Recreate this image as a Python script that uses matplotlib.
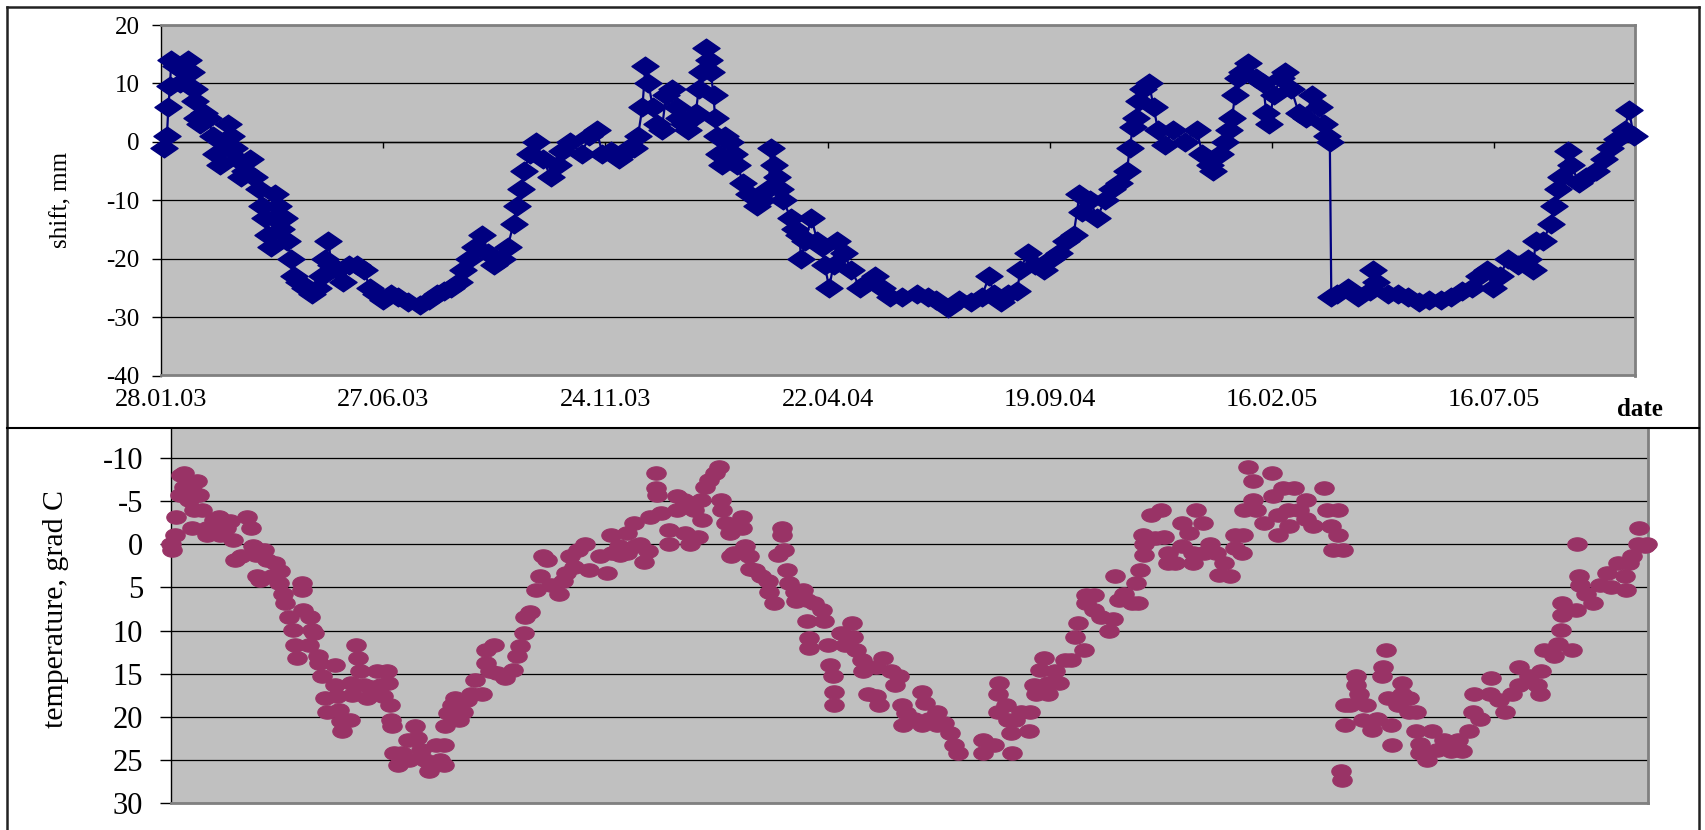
import numpy as np
import matplotlib
matplotlib.use("Agg")
import matplotlib.pyplot as plt
from matplotlib.path import Path
from matplotlib.lines import Line2D

plt.rcParams['font.family'] = ['Liberation Serif', 'DejaVu Serif']
plt.rcParams['axes.unicode_minus'] = False

# ---------------- data (x = days since 28.01.2003) ----------------
tick_days = [0, 150, 300, 450, 600, 750, 900]
tick_labels = ['28.01.03', '27.06.03', '24.11.03', '22.04.04',
               '19.09.04', '16.02.05', '16.07.05']

shift_days = [2, 4, 5, 6, 7, 10, 13, 16, 18, 20, 22, 23, 24, 26, 29, 32, 35, 37, 40, 43,
              45, 47, 49, 51, 54, 57, 60, 63, 66, 68, 70, 72, 74, 76, 77, 79, 81, 83, 85, 88,
              90, 93, 97, 102, 106, 109, 111, 113, 115, 119, 123, 127, 132, 137, 141, 145, 150, 155, 160, 167,
              175, 181, 186, 191, 196, 201, 204, 208, 212, 217, 221, 225, 230, 234, 238, 240, 243, 245, 249, 253,
              258, 263, 268, 271, 276, 284, 289, 294,
              298, 304, 309, 312, 316, 319, 322, 325, 327, 329, 332, 335, 338, 341, 345, 348, 350, 353, 356, 359,
              361, 363, 365, 368, 370, 371, 373, 374, 375, 377, 379, 381, 384, 387, 389, 393, 397, 402, 406, 410,
              412, 414, 416, 418, 420, 425, 428, 431, 432, 435, 439, 443, 446, 448, 451, 454, 456, 461, 466, 472,
              477, 482, 487, 492, 500, 510, 518, 523, 531, 539, 547, 554, 559, 562, 567, 572, 578, 580, 585, 590,
              596, 601, 606, 611, 616, 620, 622, 627, 632, 637, 642, 647, 652, 654, 656, 658, 660, 663, 667, 670,
              673, 678, 683, 691, 699,
              703, 708, 710, 715, 718, 721, 723, 725, 727, 730, 734, 739, 744, 746, 748, 751, 756, 759, 763, 768,
              773, 777, 782, 785, 787, 789, 790, 794, 801, 808, 816, 818, 820, 828, 835, 842, 849, 856, 864, 871,
              878, 885, 890, 895, 899, 904, 909, 916, 923, 926, 928, 933, 938, 940, 943, 945, 950, 952, 957, 962,
              969, 974, 978, 983, 988, 991, 994]
shift_mm = [-1, 1, 6, 9.5, 14, 13, 10, 12, 14, 12, 9, 7, 4, 3, 5, 4, 1, -2, -4, 0,
            3, 1, -1, -3, -6, -5, -3, -6, -8, -11, -13, -16, -18, -13, -9, -11, -15, -13, -17, -20,
            -23, -24, -25, -26, -25, -23, -20, -17, -21, -22, -24, -21, -21, -22, -25, -26, -27, -26, -26.5, -27.5,
            -28, -27, -26, -25.5, -25, -24, -22, -20, -18, -16, -19, -21, -20, -18, -14, -11, -8, -5, -2, 0,
            -3, -6, -4, -1.5, 0, -2, 1, 2,
            -2, -1.5, -3, -2, -1, -1, 1, 6, 13, 10, 6, 3, 2, 8, 9, 6, 4, 3, 2, 4,
            5, 9, 12, 16, 14, 12, 8, 4, 1, -2, -4, 1, 0, -2, -4, -7, -9, -11, -10, -8,
            -1, -4, -6, -8, -10, -13, -15, -16, -20, -17, -13, -17, -18, -21, -25, -21, -17, -19, -22, -25,
            -24, -23, -25, -26.5, -26.5, -26, -26.5, -27, -28.5, -27, -27.5, -26.5, -23, -26, -27.5, -26, -25.5, -22, -19, -21,
            -22, -20, -19, -17, -16, -9, -12, -10, -13, -10, -8, -7, -5, -1, 2.5, 4, 7, 9, 10, 6,
            2, -0.5, 2, 0, 2,
            -2, -4, -5, -2, 0, 2, 4, 8, 11, 12, 13.5, 11, 10, 5, 3, 8, 11, 12, 9, 5,
            4, 8, 6, 3, 1, 0, -26.5, -26, -25, -26.5, -25.5, -22, -24, -26, -26, -26.5, -27.5, -27, -27, -26.5,
            -25.5, -25, -23, -22, -25, -23, -20, -21, -20, -22, -17, -17, -14, -11, -8, -6, -1.5, -4, -7, -6,
            -5, -3, -1, 0.5, 2, 5.5, 1]

temp_days = [0, 0.5, 3, 3.5, 6, 6.5, 8.5, 9, 12, 14, 15, 15.5, 17.6, 19, 21, 24, 24.5, 29, 32, 33,
             37, 39.5, 42, 43, 47, 51, 53.7, 55, 57, 58, 60, 62.7, 65, 68, 70, 73, 73.5, 75.6, 77, 79.4,
             82, 83.3, 84.6, 88, 88.5, 89, 93, 93.6, 94.9, 96.2, 98.8, 100, 101.4, 103.9, 105.2, 110.4, 110.6, 111.7, 113, 114.2,
             115.5, 120.7, 121, 122, 124.5, 125.8, 127.1, 129.7, 132.3, 134.9, 138.7, 141.3, 142.6, 145.2, 146.5, 147.8, 148, 149, 150.3, 152.9,
             155.5, 159.4, 160.6, 164.5, 165.8, 168.4, 171, 173.5, 178.7, 181.3, 183.8, 184, 184.5, 186.4, 189, 191.6, 194.2, 196.7, 199.3, 201.9,
             204.5, 209.6, 212.2, 212.5, 214.8, 217.4, 219.9, 225.1, 230.3, 232.8, 235.4, 238, 238.5, 241.8, 245.7, 248.3, 250.9, 253.5, 256, 261.2,
             263.8, 266.3, 268.9, 271.5, 274.1, 279.2, 281.8,
             289, 294, 296.7, 297, 301.9, 302.5, 307, 307.5, 312.2, 312.7, 316, 318.6, 321.2, 322.5, 326.4, 326.8, 327.2, 330.2, 335.4, 335.8,
             340.6, 341, 345.7, 346, 349.6, 352.2, 354.7, 357.3, 357.6, 359.9, 362.5, 366.3, 368.9, 370.2, 371.5, 374, 376.7, 377, 379.2, 384.4,
             384.7, 387, 389.5, 389.8, 393.4, 397.3, 402.4, 402.7, 406.3, 408.9, 411.5, 411.8, 412.7, 415.3, 416.6, 420.5, 420.8, 425.6, 428.2, 428.5,
             429.5, 429.8, 433.4, 438.5, 439.8, 442.4, 443.7, 446.3, 446.6, 446.9, 451.4, 454, 459.1, 459.4, 461.7, 465.6, 465.9, 469.5, 474.6, 474.9,
             477.2, 479.8, 484.9, 487.5, 490.1, 492.7, 493, 495.2, 500.4, 505.6, 505.9, 508.1, 510.7, 515.9, 516.2, 521, 524.9, 527.5, 530, 546.8,
             547.1, 554.5, 557.1, 557.4, 557.7, 562.3, 563.6, 566.1, 566.4, 568.7, 572.6, 577.7, 579, 581.6, 582.9, 585.5, 588, 590.6, 590.9, 595.8,
             598.4, 602.2, 606.1, 608.7, 611.3, 615.1, 616.4, 616.7, 621.6, 621.9, 626.7, 631.9, 634.5, 635.7, 638.3, 642.2, 647.3, 649.9, 651.2, 652.5,
             655.1, 655.4, 655.7, 660.2, 662.8,
             666.7, 669, 671.4, 671.7, 676.2, 681, 681.3, 685.8, 688.2, 688.5, 690.6, 695.3, 695.6, 700.1, 703.7, 706.1, 709.7, 713.3, 716.8, 717.1,
             721.6, 721.9, 722.8, 725.2, 728.8, 729.1, 731.2, 736, 741.9, 742.2, 745.5, 745.8, 749.1, 752.7, 753, 756.3, 759.8, 764.6, 764.9, 769.4,
             776.6, 779, 781.3, 782.5, 786.1, 786.4, 788.5, 788.8, 789.7, 790.9, 791.2, 794.5, 798, 798.3, 800.5, 802.8, 805.2, 808.8, 812.4, 816,
             816.3, 818.4, 819.6, 822, 822.3, 826.7, 829.1, 829.4, 833.9, 834.2, 838.7, 839, 841.1, 841.4, 845.8, 849.4, 853, 857.8, 862.6, 867.3,
             869.7, 874.5, 876.9, 878.1, 881.7, 888.8, 889.1, 894.8, 898.4, 903.2, 908, 908.3, 915.1, 919.9, 922.3, 922.6, 924.7, 931.8, 934.2, 936.6,
             936.9, 937.2, 943.8, 946.2, 947.4, 948.6, 948.9, 953.3, 958.1, 962.9, 967.7, 970.1, 974.8, 979.6, 979.9, 982, 984.4, 988, 989.2, 992.8,
             994]
temp_c = [0, 0.6, -1.1, -3.2, -5.7, -8.1, -8.3, -6.7, -5.2, -1.9, -6.1, -4, -7.3, -5.7, -4, -1.9, -1.1, -2.8, -3.2, -1.1,
          -1.9, -2.7, -0.5, 1.8, 1.4, -3.2, -1.9, 0.2, 1.2, 3.7, 4.1, 0.6, 1.8, 3.7, 2.2, 4.5, 3.1, 5.7, 6.8, 8.4,
          9.9, 11.7, 13.2, 4.5, 5.3, 7.6, 11.7, 8.4, 9.9, 10.3, 13, 13.8, 15.3, 17.8, 19.4, 14, 16.3, 17.6, 19.2, 20.5,
          21.7, 20.4, 16.1, 17.5, 11.7, 13.2, 14.7, 16.3, 17.8, 16.5, 14.7, 16.3, 17.6, 14.7, 16.1, 18.6, 20.4, 21.1, 24.2, 25.6,
          24.2, 22.7, 25, 21.1, 22.5, 23.8, 25, 26.3, 23.3, 25, 23.3, 25.6, 21.1, 19.6, 18.6, 17.8, 20.4, 19.4, 18, 17.3,
          15.7, 17.3, 13.8, 12.2, 14.7, 11.7, 14.9, 15.5, 14.6, 13, 11.8, 10.3, 8.4, 7.8, 5.3, 3.7, 1.4, 1.8, 4.7, 5.7,
          4.3, 3.3, 1.4, 2.6, 0.6, -0.1, 3,
          1.4, 3.3, -1.1, 1, 0.2, 1.2, -1.3, 1, -2.5, 0.2, -0.1, 2, 0.8, -3.2, -8.3, -6.5, -5.7, -3.6, -1.7, -0.1,
          -5.6, -4, -5.2, -1.3, -0.1, -4, -0.9, -5.2, -2.8, -6.7, -7.5, -8.3, -9, -5.2, -4, -2.5, -1.3, 1.4, 1, -3.2,
          -1.9, 0.2, 1.4, 2.8, 3, 3.7, 4.3, 5.5, 6.8, 1.2, -1.9, -1.1, 0.6, 3, 4.5, 5.5, 6.6, 5.3, 6.4, 8.9,
          10.9, 12, 6.8, 7.6, 8.9, 11.7, 14, 15.3, 17.1, 18.6, 10.3, 11.7, 9.1, 10.7, 12.2, 13.4, 14.7, 17.3, 14.2, 17.6,
          18.6, 13.2, 14.7, 16.3, 15.3, 18.6, 20.9, 19.6, 20.2, 17.1, 20.9, 18.4, 20.2, 19.4, 20.9, 20.7, 21.9, 23.3, 24.2, 22.7,
          24.2, 23.3, 19.4, 17.3, 16.1, 18.6, 20.4, 21.9, 24.2, 20.4, 19.4, 21.7, 19.4, 16.3, 17.3, 14.6, 13.2, 16.1, 17.3, 14.7,
          16.1, 13.4, 13.4, 10.7, 9.1, 12.2, 6.8, 5.9, 5.9, 7.6, 8.4, 10.1, 8.6, 3.7, 6.4, 5.7, 6.8, 4.5, 6.8, 3,
          -1.1, -0.1, 1.2, -3.4, -0.7,
          -4, -0.9, 1, 2.2, 2.2, -2.5, 0.2, -1.3, 1, 2.2, -4, -2.5, 1, -0.1, 1, 3.5, 2.2, 3.7, 0.4, -1.1,
          1, -1.1, -4, -9, -7.3, -5.2, -4, -2.5, -8.3, -5.6, -1.1, -3.4, -6.5, -4, -2.1, -6.5, -4, -5.2, -3, -2.1,
          -6.5, -4, -2.1, 0.6, -4, -1.1, 26.3, 27.3, 0.6, 20.9, 18.6, 18.6, 16.3, 15.3, 17.3, 20.4, 18.6, 21.5, 20.2, 15.3,
          14.2, 12.2, 17.8, 20.9, 23.3, 18.6, 16.1, 17.3, 17.8, 19.4, 19.4, 21.7, 23.1, 24.2, 25, 21.7, 23.8, 22.7, 24, 22.7,
          24, 21.7, 19.4, 17.3, 20.2, 17.3, 15.5, 18, 19.4, 17.3, 14.2, 16.3, 15.3, 16.3, 17.3, 14.7, 12.2, 13, 11.5, 9.9,
          8.2, 6.8, 12.2, 7.6, -0.1, 3.7, 4.7, 5.7, 6.8, 4.7, 3.3, 4.9, 2.2, 3.7, 5.3, 2.2, 1.4, -0.1, -1.9, 0.2,
          -0.1]

# ---------------- figure ----------------
W, H = 1706, 830
fig = plt.figure(figsize=(W / 100, H / 100), dpi=100)


def box(l, t, r, b):
    return [l / W, 1 - b / H, (r - l) / W, (b - t) / H]


navy = '#000080'
plum = '#993366'
bg = '#C0C0C0'
edge_gray = '#808080'

diamond = Path([(-1, 0), (0, 0.69), (1, 0), (0, -0.69), (-1, 0)],
               [Path.MOVETO, Path.LINETO, Path.LINETO, Path.LINETO, Path.CLOSEPOLY])
th = np.linspace(0, 2 * np.pi, 41)
ellipse = Path(np.column_stack([np.cos(th), 0.69 * np.sin(th)]), closed=True)

# ---- top panel: shift ----
ax1 = fig.add_axes(box(161, 25, 1635, 375.5))
ax1.set_facecolor(bg)
ax1.plot(shift_days, shift_mm, color=navy, lw=1.6, marker=diamond, ms=19.5,
         mfc=navy, mec=navy, mew=1.0, clip_on=False, zorder=3)
ax1.set_xlim(0, 995)
ax1.set_ylim(-40, 20)
ax1.set_yticks(range(-40, 21, 10))
ax1.yaxis.grid(True, color='black', lw=0.9)
ax1.set_axisbelow(True)
ax1.set_xticks(tick_days, tick_labels)
ax1.tick_params(axis='x', length=0, pad=10, labelsize=19)
ax1.tick_params(axis='y', direction='out', length=6.5, width=1, pad=9, labelsize=18)
for s in ['top', 'right', 'bottom']:
    ax1.spines[s].set_color(edge_gray)
    ax1.spines[s].set_linewidth(2)
ax1.spines['left'].set_color('black')
ax1.spines['left'].set_linewidth(1)

sec = ax1.secondary_xaxis(2 / 3)
sec.set_xticks(tick_days)
sec.tick_params(direction='in', length=4, width=1, color='black',
                labeltop=False, labelbottom=False)
for s in sec.spines.values():
    s.set_color('black')
    s.set_linewidth(1)

# ---- bottom panel: temperature ----
ax2 = fig.add_axes(box(171, 428, 1648, 803))
ax2.set_facecolor(bg)
ax2.plot(temp_days, temp_c, ls='none', marker=ellipse, ms=14,
         mfc=plum, mec=plum, mew=0.8, clip_on=False, zorder=3)
ax2.set_xlim(0, 995)
ax2.set_ylim(30, -13.5)
ax2.set_yticks(range(-10, 31, 5))
ax2.yaxis.grid(True, color='black', lw=0.9)
ax2.set_axisbelow(True)
ax2.set_xticks([])
ax2.tick_params(axis='y', direction='out', length=8, width=1, pad=12, labelsize=22)
for s in ['right', 'bottom']:
    ax2.spines[s].set_color(edge_gray)
    ax2.spines[s].set_linewidth(2)
ax2.spines['top'].set_visible(False)
ax2.spines['left'].set_color('black')
ax2.spines['left'].set_linewidth(1)

# ---- labels ----
fig.text(61 / W, 1 - 200 / H, 'shift, mm', rotation=90, ha='center', va='center', fontsize=18)
fig.text(56 / W, 1 - 609 / H, 'temperature, grad C', rotation=90, ha='center', va='center', fontsize=21.5)
fig.text(1640 / W, 1 - 409 / H, 'date', ha='center', va='center', fontsize=18, fontweight='bold')

# ---- outer frame ----
def fline(x0, y0, x1, y1, lw=1.8, color='#222222'):
    fig.add_artist(Line2D([x0 / W, x1 / W], [1 - y0 / H, 1 - y1 / H],
                          transform=fig.transFigure, color=color, lw=lw, zorder=5))

fline(7, 7, 1699, 7)
fline(7, 7, 7, 830)
fline(1699, 7, 1699, 830)
fline(7, 428, 1699, 428, lw=1.5, color='black')

fig.savefig('out.png', dpi=100)
